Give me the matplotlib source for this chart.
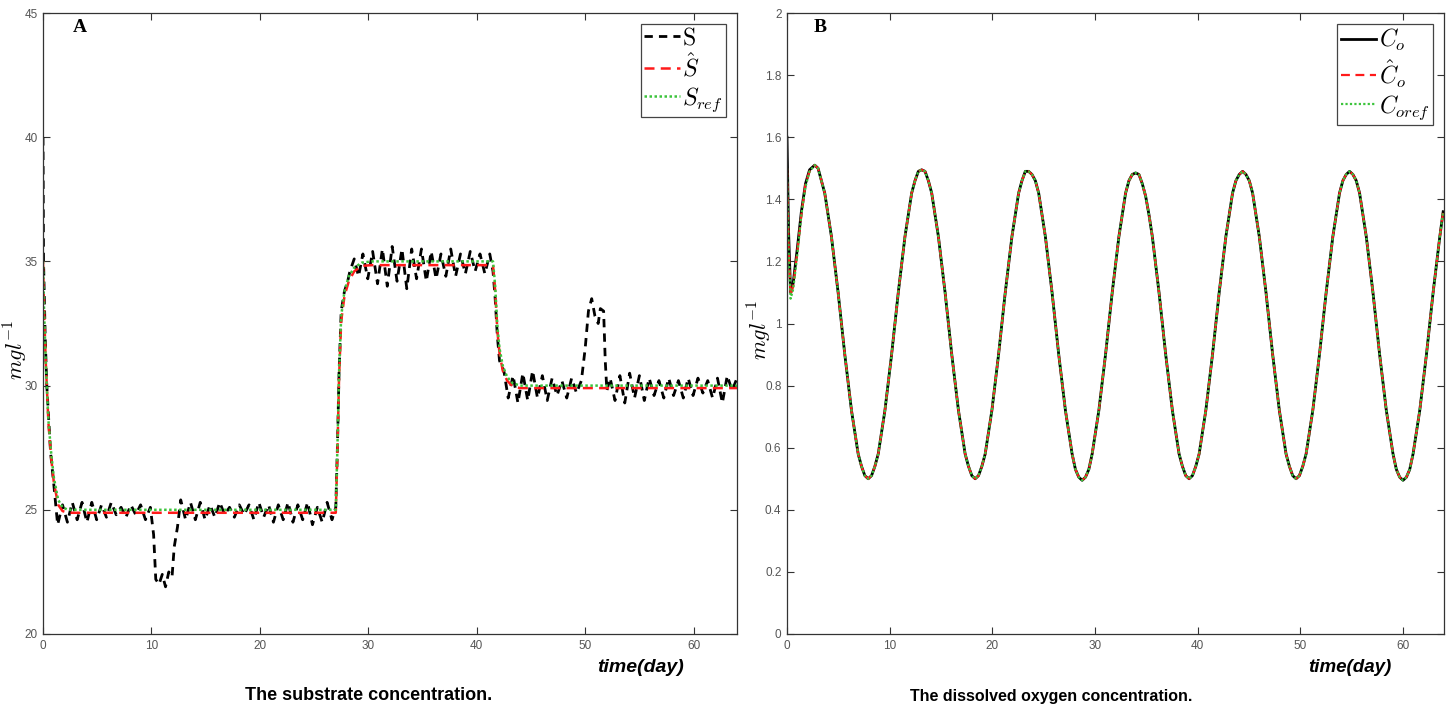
import numpy as np
import matplotlib
matplotlib.use("Agg")
import matplotlib.pyplot as plt
from matplotlib.ticker import FuncFormatter

plt.rcParams['mathtext.fontset'] = 'cm'
plt.rcParams['font.family'] = ['Liberation Sans', 'DejaVu Sans']

# ---------------- Panel A data: substrate concentration ----------------
t_S = [0.0, 0.05, 0.2, 0.35, 0.7, 1.0, 1.35, 1.8, 2.25, 2.7, 3.15, 3.6, 4.05, 4.5, 4.95,
       5.4, 5.85, 6.3, 6.75, 7.2, 7.65, 8.1, 8.55, 9.0, 9.45, 9.9, 10.2, 10.4, 10.7, 11.0,
       11.3, 11.6, 11.9, 12.1, 12.4, 12.7, 13.15, 13.6, 14.05, 14.5, 14.95, 15.4, 15.85,
       16.3, 16.75, 17.2, 17.65, 18.1, 18.55, 19.0, 19.45, 19.9, 20.35, 20.8, 21.25, 21.7,
       22.15, 22.6, 23.05, 23.5, 23.95, 24.4, 24.85, 25.3, 25.75, 26.2, 26.65, 27.0, 27.15,
       27.3, 27.5, 27.8, 28.1, 28.3, 28.7, 29.1, 29.5, 29.95, 30.4, 30.85, 31.3, 31.75,
       32.2, 32.65, 33.1, 33.55, 34.0, 34.45, 34.9, 35.35, 35.8, 36.25, 36.7, 37.15, 37.6,
       38.05, 38.5, 38.95, 39.4, 39.85, 40.3, 40.75, 41.2, 41.5, 41.7, 41.9, 42.1, 42.3,
       42.5, 42.9, 43.35, 43.8, 44.25, 44.7, 45.15, 45.6, 46.05, 46.5, 46.95, 47.4, 47.85,
       48.3, 48.75, 49.2, 49.65, 50.0, 50.3, 50.6, 50.9, 51.2, 51.4, 51.7, 51.85, 52.0,
       52.3, 52.75, 53.2, 53.65, 54.1, 54.55, 55.0, 55.45, 55.9, 56.35, 56.8, 57.25, 57.7,
       58.15, 58.6, 59.05, 59.5, 59.95, 60.4, 60.85, 61.3, 61.75, 62.2, 62.65, 63.1, 63.55,
       64.0]
S = [40.0, 35.0, 32.0, 30.0, 27.3, 26.0, 24.4, 25.2, 24.5, 25.3, 24.6, 25.3, 24.5, 25.3, 24.6,
     25.2, 24.7, 25.3, 24.8, 25.1, 24.7, 25.2, 24.8, 25.2, 24.6, 25.1, 24.0, 22.2, 22.0, 22.4,
     21.9, 22.5, 22.3, 23.5, 24.3, 25.4, 24.6, 25.3, 24.6, 25.3, 24.6, 25.2, 24.7,
     25.3, 24.8, 25.1, 24.7, 25.2, 24.8, 25.2, 24.6, 25.3, 24.7, 25.2, 24.5, 25.2,
     24.6, 25.3, 24.5, 25.2, 24.6, 25.3, 24.4, 25.1, 24.5, 25.3, 24.6, 25.1, 27.5,
     30.5, 33.0, 33.8, 34.2, 34.6, 35.1, 34.4, 35.3, 34.3, 35.4, 34.1, 35.5, 34.0,
     35.6, 34.2, 35.5, 33.9, 35.5, 34.3, 35.5, 34.2, 35.4, 34.3, 35.3, 34.4, 35.5,
     34.4, 35.3, 34.5, 35.4, 34.6, 35.3, 34.5, 35.3, 34.6, 33.5, 32.0, 31.0, 30.8,
     30.6, 29.5, 30.4, 29.3, 30.5, 29.4, 30.6, 29.5, 30.4, 29.4, 30.3, 29.6, 30.2,
     29.5, 30.3, 29.7, 30.2, 31.5, 33.0, 33.5, 32.8, 32.5, 33.1, 33.0, 31.0, 29.8,
     30.3, 29.4, 30.4, 29.3, 30.5, 29.5, 30.4, 29.4, 30.3, 29.6, 30.2, 29.5, 30.3,
     29.6, 30.2, 29.5, 30.3, 29.6, 30.3, 29.7, 30.2, 29.5, 30.3, 29.3, 30.4, 29.8,
     30.3]

t_ref = [0.0, 0.1, 0.25, 0.35, 0.5, 0.75, 1.0, 1.4, 1.8, 2.3, 27.0, 27.15, 27.3, 27.5, 27.8,
         28.2, 28.7, 29.4, 30.3, 41.5, 41.7, 41.9, 42.1, 42.4, 42.8, 43.3, 44.0, 64.0]
S_ref = [35.0, 33.0, 31.0, 30.0, 28.6, 27.3, 26.3, 25.4, 25.1, 25.0, 25.0, 27.5, 30.5, 32.8, 33.8,
         34.4, 34.75, 34.95, 35.0, 35.0, 34.0, 32.4, 31.5, 30.8, 30.35, 30.1, 30.0, 30.0]
S_hat = [35.0, 33.0, 31.0, 30.0, 28.5, 27.1, 26.1, 25.2, 24.95, 24.88, 24.88, 27.3, 30.3, 32.6, 33.6,
         34.2, 34.6, 34.82, 34.85, 34.85, 33.8, 32.2, 31.3, 30.6, 30.2, 29.97, 29.9, 29.9]

# ---------------- Panel B data: dissolved oxygen ----------------
t_Co_start = [0.0, 0.15, 0.35, 0.6, 1.0, 1.4, 1.8, 2.2]
Co_start = [1.60, 1.30, 1.10, 1.13, 1.24, 1.36, 1.45, 1.495]
Co_hat_start = [1.50, 1.25, 1.09, 1.12, 1.23, 1.35, 1.45, 1.49]
Co_ref_start = [1.50, 1.24, 1.08, 1.11, 1.22, 1.35, 1.44, 1.49]

t_Co_osc = list(2.7 + 0.325625 * np.arange(189))
Co_osc = [
    1.51, 1.50, 1.46, 1.42, 1.35, 1.28, 1.19, 1.10, 1.00, 0.90, 0.81, 0.72, 0.65, 0.58, 0.54, 0.51,
    0.50, 0.51, 0.54, 0.58, 0.65, 0.72, 0.81, 0.90, 1.00, 1.10, 1.19, 1.28, 1.35, 1.42, 1.46, 1.49,
    1.495, 1.49, 1.46, 1.42, 1.35, 1.28, 1.19, 1.10, 1.00, 0.90, 0.81, 0.72, 0.65, 0.58, 0.54, 0.51,
    0.50, 0.51, 0.54, 0.58, 0.65, 0.72, 0.81, 0.90, 1.00, 1.10, 1.19, 1.28, 1.35, 1.42, 1.46, 1.49,
    1.49, 1.48, 1.46, 1.42, 1.35, 1.28, 1.19, 1.10, 1.00, 0.90, 0.81, 0.72, 0.65, 0.58, 0.53, 0.505,
    0.495, 0.505, 0.53, 0.58, 0.65, 0.72, 0.81, 0.90, 1.00, 1.10, 1.19, 1.28, 1.35, 1.42, 1.46, 1.48,
    1.485, 1.48, 1.45, 1.41, 1.35, 1.28, 1.19, 1.10, 1.00, 0.90, 0.81, 0.72, 0.65, 0.58, 0.54, 0.51,
    0.50, 0.51, 0.54, 0.58, 0.65, 0.72, 0.81, 0.90, 1.00, 1.10, 1.19, 1.28, 1.35, 1.42, 1.46, 1.48,
    1.49, 1.48, 1.46, 1.42, 1.35, 1.28, 1.19, 1.10, 1.00, 0.90, 0.81, 0.72, 0.65, 0.58, 0.54, 0.51,
    0.50, 0.51, 0.54, 0.58, 0.65, 0.72, 0.81, 0.90, 1.00, 1.10, 1.19, 1.28, 1.35, 1.42, 1.46, 1.48,
    1.49, 1.48, 1.46, 1.42, 1.35, 1.28, 1.19, 1.10, 1.00, 0.90, 0.81, 0.72, 0.65, 0.58, 0.53, 0.505,
    0.495, 0.505, 0.53, 0.58, 0.65, 0.72, 0.81, 0.90, 1.00, 1.10, 1.19, 1.28, 1.36]

x_ticks = [0, 10, 20, 30, 40, 50, 60]
yA_ticks = [20, 25, 30, 35, 40, 45]
yB_ticks = [0, 0.2, 0.4, 0.6, 0.8, 1.0, 1.2, 1.4, 1.6, 1.8, 2.0]

GREEN = '#3cc43c'
RED = '#ff1a1a'
W, H = 1453, 709

fig = plt.figure(figsize=(W / 100, H / 100), dpi=100)
axA = fig.add_axes([43 / W, 75 / H, (737 - 43) / W, (634 - 13) / H])
axB = fig.add_axes([787 / W, 75 / H, (1444 - 787) / W, (634 - 13) / H])

def style(ax):
    ax.tick_params(direction='in', top=True, right=True, length=5, width=0.8,
                   labelsize=8.5, labelcolor='#555555', color='#333333', pad=4)
    for sp in ax.spines.values():
        sp.set_color('#333333')
        sp.set_linewidth(0.9)
    ax.set_xlim(0, 64)
    ax.yaxis.set_major_formatter(FuncFormatter(lambda v, p: '%g' % v))

# Panel A
axA.plot(t_S, S, color='black', lw=2.0, linestyle=(0, (3, 2.2)), label=r'$\mathrm{S}$')
axA.plot(t_ref, S_hat, color=RED, lw=1.8, linestyle=(0, (4, 2.5)), label=r'$\hat{S}$')
axA.plot(t_ref, S_ref, color=GREEN, lw=1.8, linestyle=(0, (1, 1)), label=r'$S_{ref}$')
axA.set_ylim(20, 45)
axA.set_xticks(x_ticks)
axA.set_yticks(yA_ticks)
style(axA)

# Panel B
t_B = t_Co_start + t_Co_osc
axB.plot(t_B, Co_start + Co_osc, color='black', lw=2.0, linestyle='-', label=r'$C_o$')
axB.plot(t_B, Co_hat_start + Co_osc, color=RED, lw=1.6, linestyle=(0, (4, 2.5)), label=r'$\hat{C}_o$')
axB.plot(t_B, Co_ref_start + Co_osc, color=GREEN, lw=1.6, linestyle=(0, (1, 1)), label=r'$C_{oref}$')
axB.set_ylim(0, 2)
axB.set_xticks(x_ticks)
axB.set_yticks(yB_ticks)
style(axB)

for ax in (axA, axB):
    leg = ax.legend(loc='upper right', fontsize=17, handlelength=1.5, handletextpad=0.1,
                    labelspacing=0.15, borderpad=0.15, borderaxespad=0.45, fancybox=False,
                    edgecolor='#444444', framealpha=1)
    leg.get_frame().set_linewidth(0.9)

def ftext(x, y, s, **kw):
    fig.text(x / W, 1 - y / H, s, ha='center', va='center', **kw)

ftext(80, 28, 'A', fontsize=14, fontweight='bold', family='Liberation Serif')
ftext(820, 28, 'B', fontsize=14, fontweight='bold', family='Liberation Serif')
ftext(16, 350, r'$mgl^{-1}$', fontsize=16, rotation=90)
ftext(760, 330, r'$mgl^{-1}$', fontsize=16, rotation=90)
ftext(641, 668, 'time(day)', fontsize=14, fontweight='bold', style='italic')
ftext(1350, 668, 'time(day)', fontsize=13.5, fontweight='bold', style='italic')
ftext(369, 696, 'The substrate concentration.', fontsize=13, fontweight='bold')
ftext(1051, 696, 'The dissolved oxygen concentration.', fontsize=11.5, fontweight='bold')

fig.savefig('out.png', dpi=100)
